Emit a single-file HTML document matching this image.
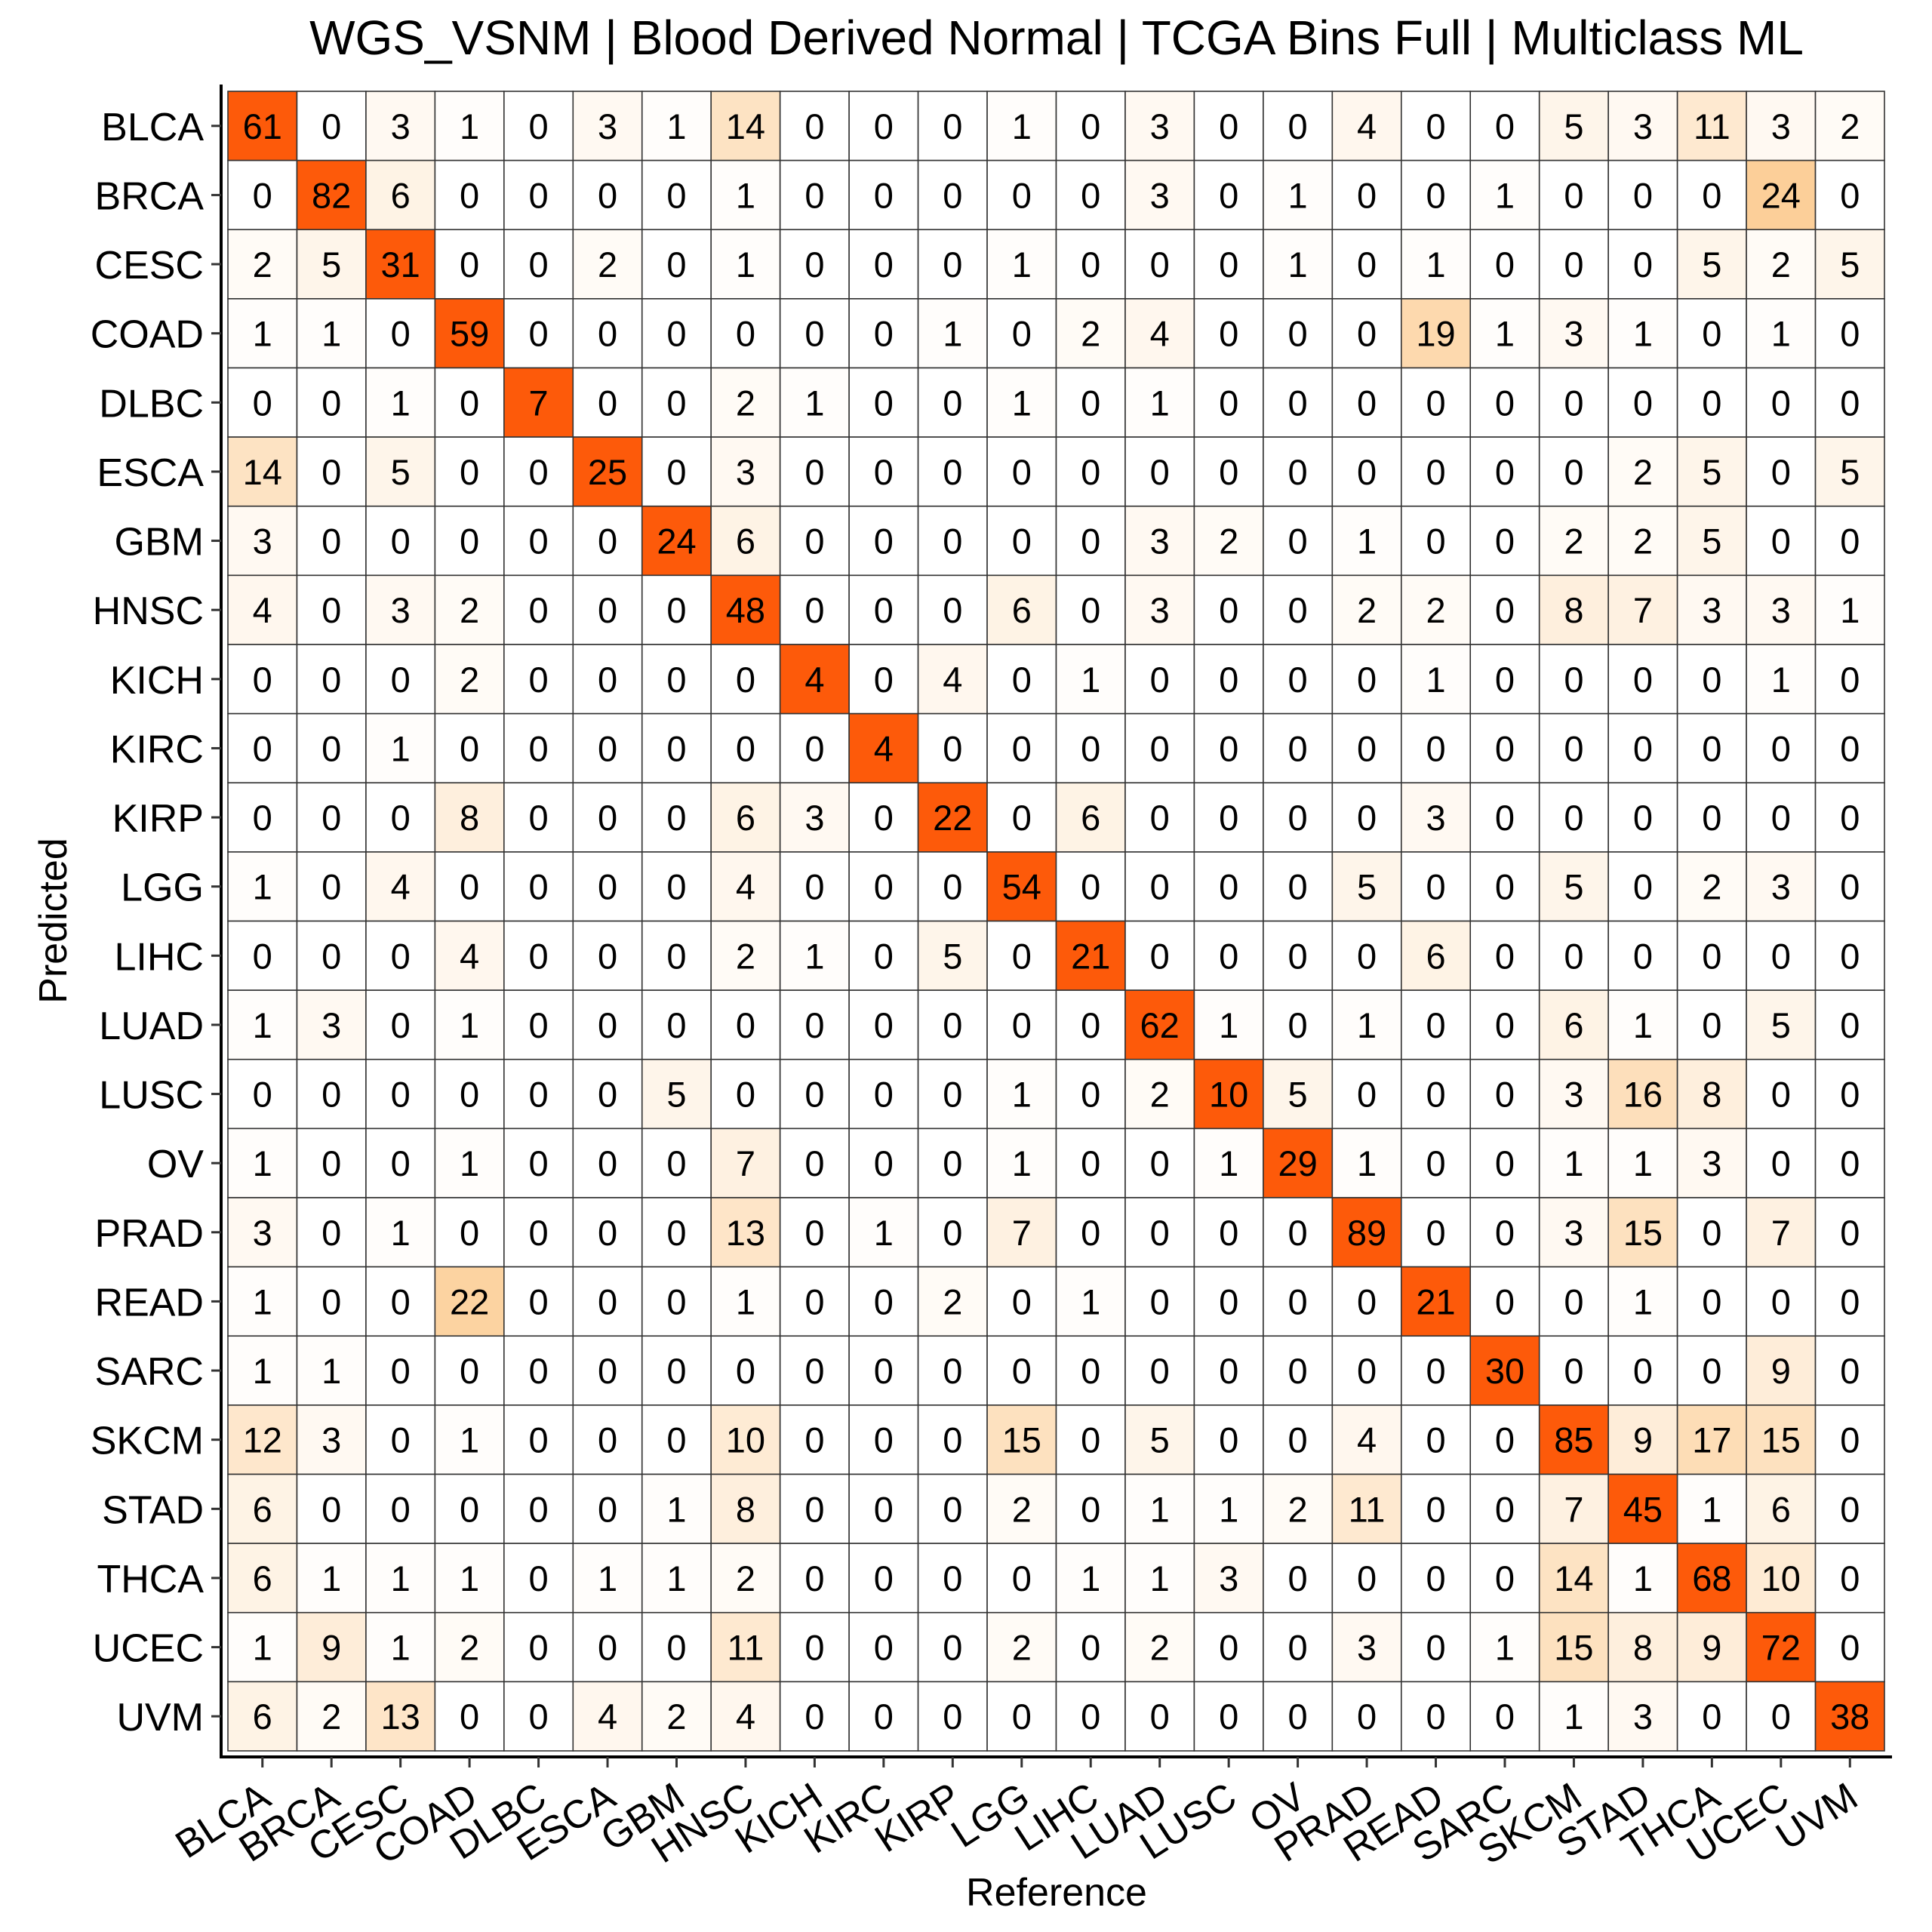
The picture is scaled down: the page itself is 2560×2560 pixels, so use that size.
<!DOCTYPE html>
<html><head><meta charset="utf-8"><style>
html,body{margin:0;padding:0;background:#fff}
svg{display:block;font-family:"Liberation Sans",Arial,sans-serif}
</style></head><body>
<svg id="chart" width="2560" height="2560" viewBox="0 0 2560 2560">
<text x="1400" y="72" font-size="64" text-anchor="middle">WGS_VSNM | Blood Derived Normal | TCGA Bins Full | Multiclass ML</text>
<g id="cells"></g>
<g id="axes"></g>
<text x="1400" y="2525" font-size="52" text-anchor="middle">Reference</text>
<text transform="translate(88,1220) rotate(-90)" font-size="52" text-anchor="middle">Predicted</text>
</svg>
<script>
const categories = ["BLCA","BRCA","CESC","COAD","DLBC","ESCA","GBM","HNSC","KICH","KIRC","KIRP","LGG","LIHC","LUAD","LUSC","OV","PRAD","READ","SARC","SKCM","STAD","THCA","UCEC","UVM"];
const rowBLCA=[61,0,3,1,0,3,1,14,0,0,0,1,0,3,0,0,4,0,0,5,3,11,3,2];
const rowBRCA=[0,82,6,0,0,0,0,1,0,0,0,0,0,3,0,1,0,0,1,0,0,0,24,0];
const rowCESC=[2,5,31,0,0,2,0,1,0,0,0,1,0,0,0,1,0,1,0,0,0,5,2,5];
const rowCOAD=[1,1,0,59,0,0,0,0,0,0,1,0,2,4,0,0,0,19,1,3,1,0,1,0];
const rowDLBC=[0,0,1,0,7,0,0,2,1,0,0,1,0,1,0,0,0,0,0,0,0,0,0,0];
const rowESCA=[14,0,5,0,0,25,0,3,0,0,0,0,0,0,0,0,0,0,0,0,2,5,0,5];
const rowGBM=[3,0,0,0,0,0,24,6,0,0,0,0,0,3,2,0,1,0,0,2,2,5,0,0];
const rowHNSC=[4,0,3,2,0,0,0,48,0,0,0,6,0,3,0,0,2,2,0,8,7,3,3,1];
const rowKICH=[0,0,0,2,0,0,0,0,4,0,4,0,1,0,0,0,0,1,0,0,0,0,1,0];
const rowKIRC=[0,0,1,0,0,0,0,0,0,4,0,0,0,0,0,0,0,0,0,0,0,0,0,0];
const rowKIRP=[0,0,0,8,0,0,0,6,3,0,22,0,6,0,0,0,0,3,0,0,0,0,0,0];
const rowLGG=[1,0,4,0,0,0,0,4,0,0,0,54,0,0,0,0,5,0,0,5,0,2,3,0];
const rowLIHC=[0,0,0,4,0,0,0,2,1,0,5,0,21,0,0,0,0,6,0,0,0,0,0,0];
const rowLUAD=[1,3,0,1,0,0,0,0,0,0,0,0,0,62,1,0,1,0,0,6,1,0,5,0];
const rowLUSC=[0,0,0,0,0,0,5,0,0,0,0,1,0,2,10,5,0,0,0,3,16,8,0,0];
const rowOV=[1,0,0,1,0,0,0,7,0,0,0,1,0,0,1,29,1,0,0,1,1,3,0,0];
const rowPRAD=[3,0,1,0,0,0,0,13,0,1,0,7,0,0,0,0,89,0,0,3,15,0,7,0];
const rowREAD=[1,0,0,22,0,0,0,1,0,0,2,0,1,0,0,0,0,21,0,0,1,0,0,0];
const rowSARC=[1,1,0,0,0,0,0,0,0,0,0,0,0,0,0,0,0,0,30,0,0,0,9,0];
const rowSKCM=[12,3,0,1,0,0,0,10,0,0,0,15,0,5,0,0,4,0,0,85,9,17,15,0];
const rowSTAD=[6,0,0,0,0,0,1,8,0,0,0,2,0,1,1,2,11,0,0,7,45,1,6,0];
const rowTHCA=[6,1,1,1,0,1,1,2,0,0,0,0,1,1,3,0,0,0,0,14,1,68,10,0];
const rowUCEC=[1,9,1,2,0,0,0,11,0,0,0,2,0,2,0,0,3,0,1,15,8,9,72,0];
const rowUVM=[6,2,13,0,0,4,2,4,0,0,0,0,0,0,0,0,0,0,0,1,3,0,0,38];
const matrix=[rowBLCA,rowBRCA,rowCESC,rowCOAD,rowDLBC,rowESCA,rowGBM,rowHNSC,rowKICH,rowKIRC,rowKIRP,rowLGG,rowLIHC,rowLUAD,rowLUSC,rowOV,rowPRAD,rowREAD,rowSARC,rowSKCM,rowSTAD,rowTHCA,rowUCEC,rowUVM];

const NS="http://www.w3.org/2000/svg";
const L=302,T=121,R=2497,B=2320;
const n=categories.length, cw=(R-L)/n, ch=(B-T)/n;
const xPos=i=>L+i*cw, yPos=i=>T+i*ch;

function mix(a,b,t){t=Math.max(0,Math.min(1,t));return `rgb(${a.map((v,k)=>Math.round(v+(b[k]-v)*t)).join(',')})`;}
const WHITE=[255,255,255], PEACH=[252,203,144], ORANGE=[253,90,10];
function cellColour(v,diag){ return diag ? mix(WHITE,ORANGE,1) : mix(WHITE,PEACH,v/26); }

const cells=document.getElementById('cells');
matrix.forEach((row,i)=>{row.forEach((v,j)=>{
  const rect=document.createElementNS(NS,'rect');
  rect.setAttribute('x',xPos(j));rect.setAttribute('y',yPos(i));
  rect.setAttribute('width',cw);rect.setAttribute('height',ch);
  rect.setAttribute('fill',cellColour(v,i===j));
  rect.setAttribute('stroke','#333');rect.setAttribute('stroke-width','1.6');
  
  
  cells.appendChild(rect);
  const tx=document.createElementNS(NS,'text');
  tx.setAttribute('x',xPos(j)+cw/2);tx.setAttribute('y',yPos(i)+ch/2+17);
  tx.setAttribute('font-size','47');tx.setAttribute('text-anchor','middle');
  tx.textContent=v;
  
  
  cells.appendChild(tx);
});});

const axes=document.getElementById('axes');
function line(x1,y1,x2,y2,w,name){const l=document.createElementNS(NS,'line');
l.setAttribute('x1',x1);l.setAttribute('y1',y1);l.setAttribute('x2',x2);l.setAttribute('y2',y2);
l.setAttribute('stroke',w>3?'#000':'#333');l.setAttribute('stroke-width',w);


axes.appendChild(l);}
line(293,112,293,2330,4,'y-axis-line');
line(291,2328,2507,2328,4,'x-axis-line');
categories.forEach((c,i)=>{
  const cy=yPos(i)+ch/2;
  line(280,cy,293,cy,3,'y-tick');
  const t=document.createElementNS(NS,'text');
  t.setAttribute('x',270);t.setAttribute('y',cy+19);t.setAttribute('font-size','52');t.setAttribute('text-anchor','end');
  t.textContent=c;
  
  
  axes.appendChild(t);
  const cx=xPos(i)+cw/2;
  line(cx,2328,cx,2342,3,'x-tick');
  const u=document.createElementNS(NS,'text');
  u.setAttribute('transform',`translate(${cx+14},${2390}) rotate(-33)`);
  u.setAttribute('font-size','52');u.setAttribute('text-anchor','end');
  u.textContent=c;
  
  
  axes.appendChild(u);
});
</script>
</body></html>
